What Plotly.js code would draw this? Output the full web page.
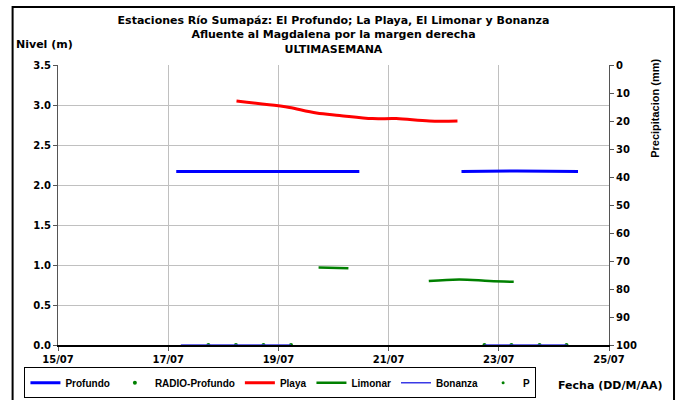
<!DOCTYPE html>
<html>
<head>
<meta charset="utf-8">
<script src="https://cdn.plot.ly/plotly-3.0.1.min.js"></script>
<style>html,body{margin:0;padding:0;background:#fff;}#chart{width:679px;height:400px;}</style>
</head>
<body>
<div id="chart"></div>
<script>
// ---- data ----
var profundoX = ['2013-07-17 03:30','2013-07-18 12:00','2013-07-19 12:00','2013-07-20 11:15',null,
                 '2013-07-22 07:45','2013-07-23 00:00','2013-07-23 08:00','2013-07-24 10:30'];
var profundoY = [2.17,2.17,2.17,2.17,null,2.17,2.175,2.175,2.17];

var radioX = ['2013-07-17 17:30','2013-07-18 05:30','2013-07-18 17:30','2013-07-19 05:30',
              '2013-07-22 17:45','2013-07-23 05:30','2013-07-23 17:45','2013-07-24 05:30'];
var radioY = [0,0,0,0,0,0,0,0];

var playaX = ['2013-07-18 05:45','2013-07-19 00:00','2013-07-19 04:50','2013-07-19 16:35','2013-07-20 02:40',
              '2013-07-20 17:00','2013-07-21 03:20','2013-07-21 17:45','2013-07-22 06:00'];
var playaY = [3.05,2.99,2.97,2.90,2.87,2.83,2.83,2.80,2.80];

var limonarX = ['2013-07-19 17:30','2013-07-20 06:30',null,'2013-07-21 17:30','2013-07-22 06:45','2013-07-22 20:00','2013-07-23 06:30'];
var limonarY = [0.97,0.96,null,0.80,0.82,0.80,0.79];

var bonanzaX = ['2013-07-17 05:30','2013-07-19 05:30',null,'2013-07-22 17:45','2013-07-24 05:45'];
var bonanzaY = [0,0,null,0,0];

var pX = ['2013-07-17 17:30','2013-07-23 05:30'];
var pY = [null,null];

var xTickStart = '2013-07-15';
var xRange = ['2013-07-15','2013-07-25'];

// ---- chart ----
var FONT = 'DejaVu Sans, Liberation Sans, Arial, sans-serif';
var FONT2 = 'Liberation Sans, Arial, sans-serif';
var traces = [
  {name:'Profundo', x:profundoX, y:profundoY, type:'scatter', mode:'lines', connectgaps:false,
   line:{color:'#0000ff', width:3}},
  {name:'RADIO-Profundo', x:radioX, y:radioY, type:'scatter', mode:'markers',
   marker:{color:'#008000', size:4}},
  {name:'Playa', x:playaX, y:playaY, type:'scatter', mode:'lines', connectgaps:false,
   line:{color:'#ff0000', width:3, shape:'spline'}},
  {name:'Limonar', x:limonarX, y:limonarY, type:'scatter', mode:'lines', connectgaps:false,
   line:{color:'#008000', width:2.5, shape:'spline'}},
  {name:'Bonanza', x:bonanzaX, y:bonanzaY, type:'scatter', mode:'lines', connectgaps:false,
   line:{color:'#3a3ae6', width:1.5}},
  {name:'P', x:pX, y:pY, type:'scatter', mode:'markers', yaxis:'y2',
   marker:{color:'#008000', size:3}}
];

var layout = {
  width:679, height:400,
  margin:{l:58, r:70, t:65, b:55},
  paper_bgcolor:'#fff', plot_bgcolor:'#fff',
  font:{family:FONT, size:10, color:'#000', weight:'bold'},
  title:{text:'Estaciones Río Sumapáz: El Profundo; La Playa, El Limonar y Bonanza<br>Afluente al Magdalena por la margen derecha<br>ULTIMASEMANA',
         font:{family:FONT, size:11, weight:'bold', color:'#000'},
         x:0.5, xref:'paper', xanchor:'center', y:0.94, yanchor:'top', yref:'container'},
  showlegend:true,
  legend:{orientation:'h', xref:'container', yref:'container', x:0.036, xanchor:'left', y:0.082, yanchor:'top',
          bordercolor:'#000', borderwidth:1, bgcolor:'#fff',
          font:{family:FONT2, size:10, weight:'bold'}, itemwidth:30, tracegroupgap:0},
  xaxis:{type:'date', range:xRange, tick0:xTickStart, dtick:172800000, tickformat:'%d/%m',
         showgrid:true, gridcolor:'#c0c0c0', gridwidth:1,
         showline:true, linecolor:'#000', linewidth:1.5, ticks:'outside', ticklen:4, tickcolor:'#555',
         tickfont:{family:FONT, size:10, weight:'bold'}, zeroline:false},
  yaxis:{range:[0,3.5], dtick:0.5, tickformat:'.1f', showgrid:true, gridcolor:'#c0c0c0', gridwidth:1,
         showline:true, linecolor:'#555', linewidth:1, ticks:'outside', ticklen:4, tickcolor:'#555',
         tickfont:{family:FONT, size:10, weight:'bold'}, zeroline:false},
  yaxis2:{overlaying:'y', side:'right', range:[100,0], dtick:10, showgrid:false,
          showline:true, linecolor:'#555', linewidth:1, ticks:'outside', ticklen:4, tickcolor:'#555',
          tickfont:{family:FONT, size:10, weight:'bold'}, zeroline:false},
  annotations:[
    {text:'Nivel (m)', xref:'paper', yref:'paper', x:-0.08, y:1.075, xanchor:'left', yanchor:'middle',
     showarrow:false, font:{family:FONT, size:11, weight:'bold'}},
    {text:'Precipitacion (mm)', xref:'paper', yref:'paper', x:1.083, y:0.846, xanchor:'center', yanchor:'middle',
     textangle:-90, showarrow:false, font:{family:FONT2, size:11, weight:'bold'}},
    {text:'Fecha (DD/M/AA)', xref:'paper', yref:'paper', x:1.1, y:-0.143, xanchor:'right', yanchor:'middle',
     showarrow:false, font:{family:FONT, size:11, weight:'bold'}}
  ],
  shapes:[
    {type:'rect', xref:'paper', yref:'paper', x0:-0.0824, x1:1.118, y0:-0.25, y1:1.207,
     line:{color:'#000', width:2}, fillcolor:'rgba(0,0,0,0)', layer:'below'}
  ]
};

Plotly.newPlot('chart', traces, layout, {displayModeBar:false, responsive:false});
</script>
</body>
</html>
